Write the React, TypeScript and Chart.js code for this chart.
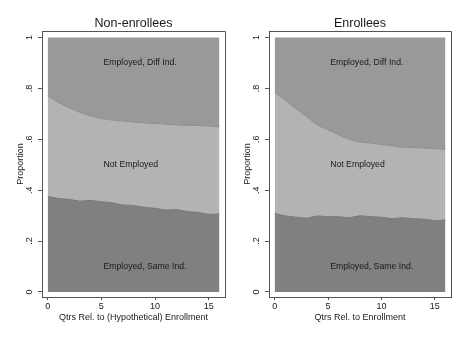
import React, { useEffect, useRef } from "react";
import { Chart, registerables } from "chart.js";

Chart.register(...registerables);

// ---- data ----
const quarters = [0, 1, 2, 3, 4, 5, 6, 7, 8, 9, 10, 11, 12, 13, 14, 15, 16];
const xTicks = [0, 5, 10, 15];
const yTicks = [0, 0.2, 0.4, 0.6, 0.8, 1];
const yTickLabels = ["0", ".2", ".4", ".6", ".8", "1"];

// Non-enrollees: cumulative boundaries
const nonSameInd = [0.375, 0.368, 0.364, 0.357, 0.36, 0.355, 0.351, 0.342, 0.34, 0.333, 0.329, 0.322, 0.324, 0.316, 0.313, 0.305, 0.307];
const nonNotEmpTop = [0.771, 0.745, 0.724, 0.706, 0.692, 0.682, 0.676, 0.672, 0.668, 0.665, 0.663, 0.66, 0.657, 0.655, 0.655, 0.653, 0.649];
// Enrollees: cumulative boundaries
const enrSameInd = [0.309, 0.299, 0.294, 0.29, 0.299, 0.296, 0.296, 0.292, 0.3, 0.296, 0.294, 0.288, 0.292, 0.288, 0.286, 0.28, 0.283];
const enrNotEmpTop = [0.785, 0.753, 0.721, 0.689, 0.657, 0.637, 0.617, 0.6, 0.589, 0.585, 0.58, 0.575, 0.569, 0.568, 0.566, 0.564, 0.561];
const totalTop = [1, 1, 1, 1, 1, 1, 1, 1, 1, 1, 1, 1, 1, 1, 1, 1, 1];

const regionLabels = [
  { text: "Employed, Diff Ind.", x: 5.2, y: 0.9 },
  { text: "Not Employed", x: 5.2, y: 0.5 },
  { text: "Employed, Same Ind.", x: 5.2, y: 0.1 },
];

const FONT = "'Liberation Sans', Arial, Helvetica, sans-serif";
const TEXT = "#1a1a1a";
const AXIS = "#555";

type PanelProps = {
  title: string;
  xTitle: string;
  sameInd: number[];
  notEmpTop: number[];
  frameLeft: number;
  frameRight: number;
  left: number;
};

function Panel({ title, xTitle, sameInd, notEmpTop, frameLeft, frameRight, left }: PanelProps) {
  const ref = useRef<HTMLCanvasElement | null>(null);
  useEffect(() => {
    if (!ref.current) return;
    const W = 234;
    const pts = (arr: number[]) => quarters.map((q, i) => ({ x: q, y: arr[i] }));
    const plugin = {
      id: "stataPanel",
      afterDraw(chart: any) {
        const { ctx, chartArea: a, scales } = chart;
        ctx.save();
        ctx.strokeStyle = AXIS;
        ctx.lineWidth = 1;
        ctx.beginPath();
        ctx.moveTo(a.left, Math.round(a.top) + 0.5);
        ctx.lineTo(Math.round(a.right) + 0.5, Math.round(a.top) + 0.5);
        ctx.lineTo(Math.round(a.right) + 0.5, a.bottom);
        ctx.stroke();
        // title
        ctx.fillStyle = TEXT;
        ctx.font = `12.5px ${FONT}`;
        ctx.textAlign = "center";
        ctx.textBaseline = "middle";
        ctx.fillText(title, (a.left + a.right) / 2, 23.5);
        // rotated y tick labels
        ctx.font = `9px ${FONT}`;
        yTicks.forEach((v, i) => {
          const py = scales.y.getPixelForValue(v);
          ctx.save();
          ctx.translate(a.left - 12, py);
          ctx.rotate(-Math.PI / 2);
          ctx.fillText(yTickLabels[i], 0, 0);
          ctx.restore();
        });
        // region labels
        ctx.font = `8.7px ${FONT}`;
        ctx.textAlign = "left";
        regionLabels.forEach((l) => {
          ctx.fillText(l.text, scales.x.getPixelForValue(l.x), scales.y.getPixelForValue(l.y));
        });
        ctx.restore();
      },
    };
    const chart = new Chart(ref.current, {
      type: "line",
      data: {
        datasets: [
          {
            data: pts(sameInd),
            fill: "origin",
            backgroundColor: "#808080",
            borderColor: "#777777",
            borderWidth: 1,
            pointRadius: 0,
            tension: 0,
          },
          {
            data: pts(notEmpTop),
            fill: "-1",
            backgroundColor: "#b3b3b3",
            borderColor: "#8c8c8c",
            borderWidth: 1,
            pointRadius: 0,
            tension: 0,
          },
          {
            data: pts(totalTop),
            fill: "-1",
            backgroundColor: "#999999",
            borderWidth: 0,
            pointRadius: 0,
            tension: 0,
          },
        ],
      },
      options: {
        animation: false,
        responsive: false,
        events: [],
        layout: { padding: { top: 31, right: W - frameRight, bottom: 0, left: 0 } },
        plugins: { legend: { display: false }, tooltip: { enabled: false }, title: { display: false } },
        scales: {
          x: {
            type: "linear",
            min: -0.53,
            max: 16.52,
            afterBuildTicks: (s: any) => {
              s.ticks = xTicks.map((v) => ({ value: v }));
            },
            afterFit: (s: any) => {
              s.height = 43;
            },
            grid: { display: true, drawOnChartArea: false, drawTicks: true, tickLength: 3, color: AXIS },
            border: { display: true, color: AXIS, width: 1 },
            ticks: { padding: 1, color: TEXT, font: { family: FONT, size: 9 }, maxRotation: 0, autoSkip: false },
            title: {
              display: true,
              text: xTitle,
              color: TEXT,
              font: { family: FONT, size: 9 },
              padding: { top: 0, bottom: 17.5 },
            },
          },
          y: {
            type: "linear",
            min: -0.0197,
            max: 1.026,
            afterBuildTicks: (s: any) => {
              s.ticks = yTicks.map((v) => ({ value: v }));
            },
            afterFit: (s: any) => {
              s.width = frameLeft;
            },
            grid: { display: true, drawOnChartArea: false, drawTicks: true, tickLength: 4, color: AXIS },
            border: { display: true, color: AXIS, width: 1 },
            ticks: { display: false },
            title: {
              display: true,
              text: "Proportion",
              color: TEXT,
              font: { family: FONT, size: 9 },
              padding: { top: Math.max(0, frameLeft - 21 - 5.4), bottom: 0 },
            },
          },
        },
      },
      plugins: [plugin],
    } as any);
    return () => chart.destroy();
  }, []);
  return (
    <canvas
      ref={ref}
      width={234}
      height={340}
      style={{ position: "absolute", left, top: 0, width: 234, height: 340 }}
    />
  );
}

export default function App() {
  return (
    <div style={{ position: "absolute", left: 0, top: 0, width: 468, height: 340, background: "#fff" }}>
      <Panel
        title="Non-enrollees"
        xTitle="Qtrs Rel. to (Hypothetical) Enrollment"
        sameInd={nonSameInd}
        notEmpTop={nonNotEmpTop}
        frameLeft={42}
        frameRight={225}
        left={0}
      />
      <Panel
        title="Enrollees"
        xTitle="Qtrs Rel. to Enrollment"
        sameInd={enrSameInd}
        notEmpTop={enrNotEmpTop}
        frameLeft={35}
        frameRight={217}
        left={234}
      />
    </div>
  );
}
